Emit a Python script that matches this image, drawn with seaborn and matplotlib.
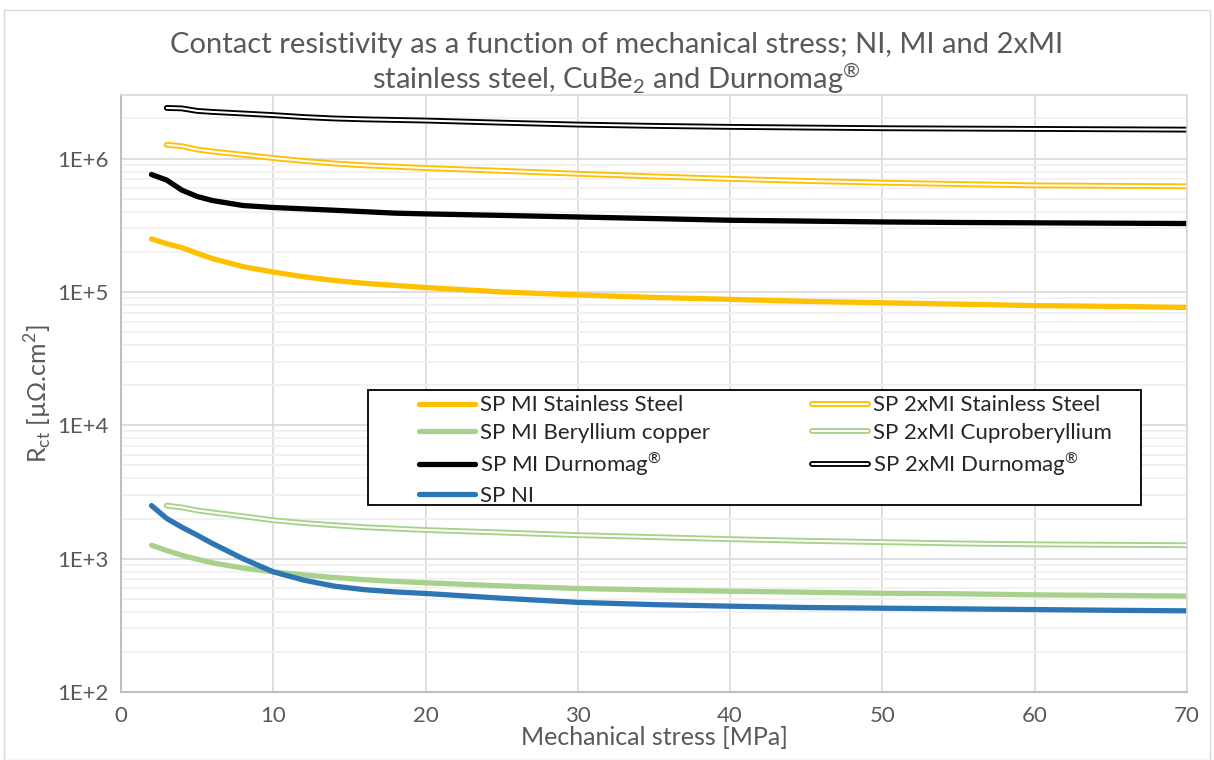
import matplotlib
matplotlib.use("Agg")
import matplotlib.pyplot as plt
import matplotlib.patheffects as pe
import numpy as np
import pandas as pd
import seaborn as sns

# stress points [MPa]
x_mi = [2, 3, 4, 5, 6, 8, 10, 12, 14, 16, 18, 20, 25, 30, 35, 40, 45, 50, 55, 60, 65, 70]
x_2xmi = [3, 4, 5, 6, 8, 10, 12, 14, 16, 18, 20, 25, 30, 35, 40, 45, 50, 55, 60, 65, 70]

# contact resistivity [uOhm.cm2]
mi_steel = [2.5e5, 2.3e5, 2.15e5, 1.95e5, 1.78e5, 1.55e5, 1.41e5, 1.3e5, 1.22e5, 1.16e5, 1.12e5, 1.08e5,
            1.0e5, 9.5e4, 9.1e4, 8.8e4, 8.5e4, 8.3e4, 8.1e4, 7.9e4, 7.8e4, 7.65e4]
mi_becu = [1260, 1150, 1060, 990, 930, 850, 796, 755, 722, 695, 675, 659,
           625, 597, 582, 570, 560, 550, 545, 535, 530, 524]
mi_durnomag = [7.6e5, 6.9e5, 5.8e5, 5.2e5, 4.85e5, 4.45e5, 4.3e5, 4.2e5, 4.1e5, 4.0e5, 3.9e5, 3.85e5,
               3.75e5, 3.65e5, 3.55e5, 3.45e5, 3.4e5, 3.35e5, 3.32e5, 3.3e5, 3.28e5, 3.26e5]
ni = [2500, 2000, 1720, 1500, 1300, 1000, 796, 690, 622, 585, 563, 548,
      505, 470, 452, 440, 430, 425, 420, 415, 410, 406]
x2_steel = [1.27e6, 1.24e6, 1.17e6, 1.13e6, 1.07e6, 1.01e6, 9.6e5, 9.2e5, 8.9e5, 8.7e5, 8.5e5,
            8.1e5, 7.7e5, 7.35e5, 7.05e5, 6.8e5, 6.6e5, 6.45e5, 6.3e5, 6.25e5, 6.2e5]
x2_cube = [2500, 2420, 2300, 2220, 2080, 1940, 1850, 1780, 1720, 1680, 1640,
           1570, 1500, 1450, 1400, 1360, 1330, 1300, 1280, 1270, 1260]
x2_durnomag = [2.4e6, 2.38e6, 2.28e6, 2.24e6, 2.18e6, 2.12e6, 2.05e6, 2.0e6, 1.97e6, 1.95e6, 1.93e6,
               1.86e6, 1.8e6, 1.76e6, 1.73e6, 1.71e6, 1.69e6, 1.68e6, 1.67e6, 1.66e6, 1.65e6]

YELLOW = "#FFC000"
GREEN = "#A9D18E"
BLUE = "#2E75B6"
GREY = "#595959"
REG = "$^{\\mathregular{\u00ae}}$"

sns.set_style("white")
plt.rcParams['font.family'] = ['Lato', 'DejaVu Sans']
plt.rcParams['mathtext.fontset'] = 'custom'
plt.rcParams['mathtext.rm'] = 'Lato'

fig = plt.figure(figsize=(12.14, 7.6), dpi=100)
ax = fig.add_axes([0.0997, 0.0895, 0.878, 0.7855])

solid = [
    ("SP MI Stainless Steel", x_mi, mi_steel, YELLOW),
    ("SP MI Beryllium copper", x_mi, mi_becu, GREEN),
    ("SP MI Durnomag" + REG, x_mi, mi_durnomag, "black"),
    ("SP NI", x_mi, ni, BLUE),
]
hollow = [
    ("SP 2xMI Stainless Steel", x_2xmi, x2_steel, YELLOW),
    ("SP 2xMI Cuproberyllium", x_2xmi, x2_cube, GREEN),
    ("SP 2xMI Durnomag" + REG, x_2xmi, x2_durnomag, "black"),
]

for name, xs, ys, col in solid:
    d = pd.DataFrame({"x": xs, "y": ys})
    sns.lineplot(data=d, x="x", y="y", ax=ax, color=col, lw=3.8, label=name,
                 solid_capstyle="round", solid_joinstyle="round")

# 2xMI series: hollow double line (coloured stroke with white core)
for name, xs, ys, col in hollow:
    d = pd.DataFrame({"x": xs, "y": ys})
    sns.lineplot(data=d, x="x", y="y", ax=ax, color="white", lw=1.5, label=name,
                 solid_capstyle="round", solid_joinstyle="round",
                 path_effects=[pe.Stroke(linewidth=4.2, foreground=col, capstyle="round"), pe.Normal()])

ax.set_yscale("log")
ax.set_xlim(0, 70)
ax.set_ylim(100, 3e6)
ax.set_xticks(np.arange(0, 71, 10))
ax.set_yticks([1e2, 1e3, 1e4, 1e5, 1e6])
ax.set_yticklabels(["1E+2", "1E+3", "1E+4", "1E+5", "1E+6"])
ax.tick_params(axis="both", colors=GREY, labelsize=16, length=0)
ax.tick_params(axis="x", pad=10)
ax.tick_params(axis="y", pad=9)
ax.grid(True, which="major", color="#d9d9d9", lw=1.2)
ax.grid(True, which="minor", axis="y", color="#f0f0f0", lw=1.2)
ax.set_axisbelow(True)
for s in ["left", "bottom"]:
    ax.spines[s].set_color("#bfbfbf")
    ax.spines[s].set_linewidth(1.5)
for s in ["top", "right"]:
    ax.spines[s].set_color("#d9d9d9")
    ax.spines[s].set_linewidth(1.2)

ax.set_xlabel("Mechanical stress [MPa]", color=GREY, fontsize=18, labelpad=0)
ax.set_ylabel("R$_{\\mathregular{ct}}$ [\u00b5\u03a9.cm$^{\\mathregular{2}}$]",
              color=GREY, fontsize=18, labelpad=2)

fig.text(0.508, 0.941, "Contact resistivity as a function of mechanical stress; NI, MI and 2xMI",
         ha="center", va="center", fontsize=21, color=GREY)
fig.text(0.508, 0.896, "stainless steel, CuBe$_{\\mathregular{2}}$ and Durnomag" + REG,
         ha="center", va="center", fontsize=21, color=GREY)

# legend box drawn by hand, entries placed without frame
ax.add_patch(plt.Rectangle((0.2317, 0.313), 0.725, 0.193, transform=ax.transAxes,
                           facecolor="white", edgecolor="black", lw=1.3, zorder=5))
h, l = ax.get_legend_handles_labels()
leg = ax.legend(h, l, ncol=2, loc="upper left", bbox_to_anchor=(0.2795, 0.497),
                frameon=False, fontsize=16, handlelength=2.5, handletextpad=0.25,
                borderpad=0, labelspacing=0.34, borderaxespad=0, columnspacing=4.6)
leg.set_zorder(6)

fig.patches.append(plt.Rectangle((0.003, 0.0), 0.994, 0.987, transform=fig.transFigure,
                                 fill=False, edgecolor="#d9d9d9", lw=1))

fig.savefig("out.png", dpi=100)
